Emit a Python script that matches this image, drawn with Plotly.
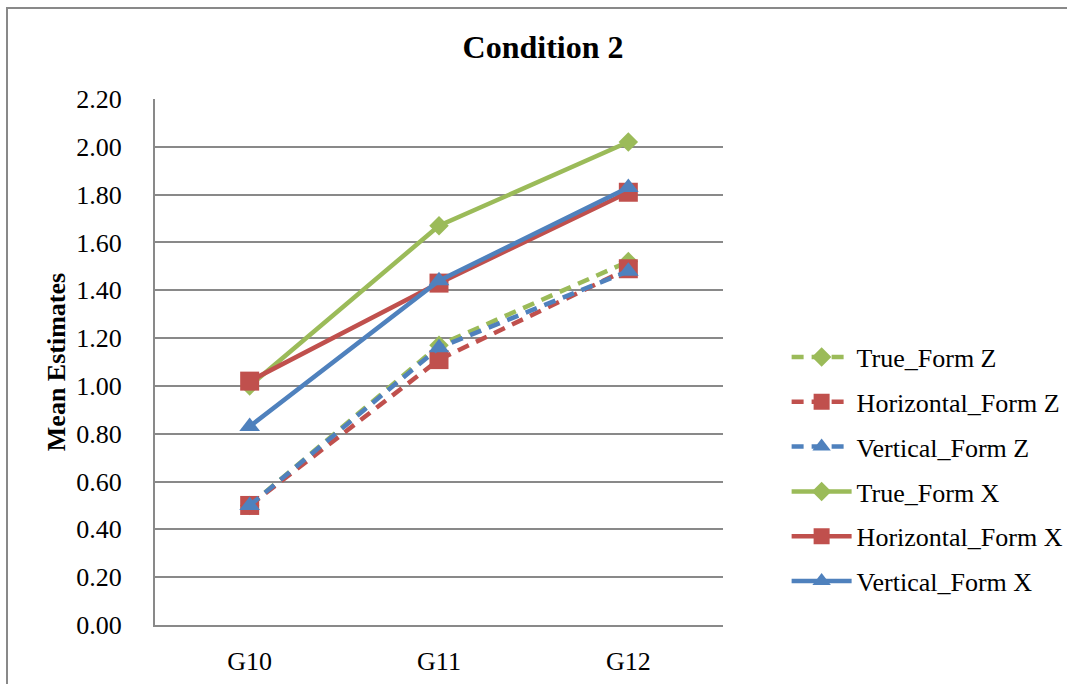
import plotly.graph_objects as go

# Grade levels on the x axis
grades = ["G10", "G11", "G12"]

# Mean estimates per form
true_form_z = [0.50, 1.17, 1.52]
horizontal_form_z = [0.50, 1.11, 1.49]
vertical_form_z = [0.50, 1.16, 1.48]
true_form_x = [1.00, 1.67, 2.02]
horizontal_form_x = [1.02, 1.43, 1.81]
vertical_form_x = [0.83, 1.44, 1.83]

y_ticks = [0.0, 0.2, 0.4, 0.6, 0.8, 1.0, 1.2, 1.4, 1.6, 1.8, 2.0, 2.2]

GREEN = "#9BBB59"
RED = "#C0504D"
BLUE = "#4F81BD"
FONT = "Liberation Serif, Times New Roman, serif"

series = [
    ("True_Form Z", true_form_z, GREEN, "diamond", 15, "12px,8px"),
    ("Horizontal_Form Z", horizontal_form_z, RED, "square", 19, "12px,8px"),
    ("Vertical_Form Z", vertical_form_z, BLUE, "triangle-up", 18, "12px,8px"),
    ("True_Form X", true_form_x, GREEN, "diamond", 15, "solid"),
    ("Horizontal_Form X", horizontal_form_x, RED, "square", 19, "solid"),
    ("Vertical_Form X", vertical_form_x, BLUE, "triangle-up", 18, "solid"),
]

fig = go.Figure()
for name, values, color, symbol, size, dash in series:
    fig.add_trace(go.Scatter(
        x=grades, y=values, name=name, mode="lines+markers",
        legendgroup=name,
        line=dict(color=color, width=4.5, dash=dash),
        marker=dict(symbol=symbol, size=size, color=color,
                    line=dict(width=0)),
    ))

fig.update_layout(
    width=1067, height=684,
    margin=dict(l=155, r=344, t=99, b=59, autoexpand=False),
    paper_bgcolor="white", plot_bgcolor="white",
    font=dict(family=FONT, size=26, color="black"),
    title=dict(text="<b>Condition 2</b>", x=543 / 1067, xanchor="center",
               y=1 - 47 / 684, yanchor="middle",
               font=dict(family=FONT, size=32, color="black")),
    showlegend=True,
    legend=dict(x=1.112, xanchor="left", y=0.554, yanchor="top",
                font=dict(family=FONT, size=26, color="black"),
                bgcolor="rgba(0,0,0,0)", tracegroupgap=8,
                itemwidth=60),
    shapes=[dict(type="rect", xref="paper", yref="paper",
                 x0=(7 - 155) / 568, x1=(1075 - 155) / 568,
                 y0=(625 - 700) / 526, y1=(625 - 8) / 526,
                 line=dict(color="#898989", width=2), layer="below")],
)

fig.update_xaxes(
    type="category", range=[-0.5, 2.5], automargin=False,
    showgrid=False, showline=True, linecolor="#898989", linewidth=2,
    ticks="", ticklabelstandoff=12,
    tickfont=dict(family=FONT, size=26, color="black"),
)
fig.update_yaxes(
    range=[0, 2.2], tickvals=y_ticks, tickformat=".2f", automargin=False,
    showgrid=True, gridcolor="#898989", gridwidth=2,
    showline=True, linecolor="#898989", linewidth=2,
    zeroline=False, ticks="", ticklabelstandoff=26,
    tickfont=dict(family=FONT, size=26, color="black"),
    title=dict(text="<b>Mean Estimates</b>", standoff=3,
               font=dict(family=FONT, size=26, color="black")),
)

fig.write_html("out.html")
